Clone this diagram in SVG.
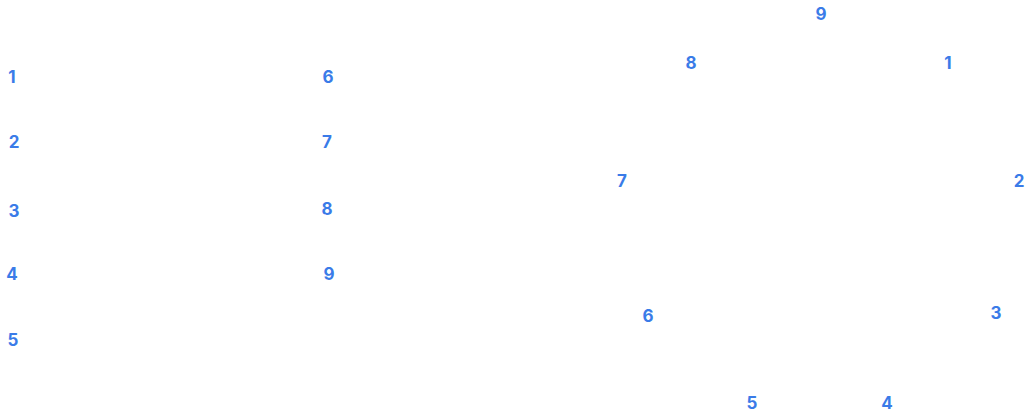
<svg xmlns="http://www.w3.org/2000/svg" width="1034" height="418" viewBox="0 0 1034 418">
<style>
.n{font-family:Inter,"Open Sans","Liberation Sans",sans-serif;font-weight:700;font-size:17px;fill:#3a7be8;text-anchor:middle}
</style>
<rect width="1034" height="418" fill="#ffffff"/>
<g id="left-list">
<g id="l1"><text class="n" x="12" y="83">1</text></g>
<g id="l2"><text class="n" x="14" y="148">2</text></g>
<g id="l3"><text class="n" x="14" y="217">3</text></g>
<g id="l4"><text class="n" x="12" y="280">4</text></g>
<g id="l5"><text class="n" x="13" y="346">5</text></g>
<g id="l6"><text class="n" x="328" y="83">6</text></g>
<g id="l7"><text class="n" x="327" y="148">7</text></g>
<g id="l8"><text class="n" x="327" y="215">8</text></g>
<g id="l9"><text class="n" x="329" y="280">9</text></g>
</g>
<g id="circle-list">
<g id="c9"><text class="n" x="821" y="20">9</text></g>
<g id="c8"><text class="n" x="691" y="69">8</text></g>
<g id="c1"><text class="n" x="948" y="69">1</text></g>
<g id="c7"><text class="n" x="622" y="187">7</text></g>
<g id="c2"><text class="n" x="1019" y="187">2</text></g>
<g id="c6"><text class="n" x="648" y="322">6</text></g>
<g id="c3"><text class="n" x="996" y="319">3</text></g>
<g id="c5"><text class="n" x="752" y="409">5</text></g>
<g id="c4"><text class="n" x="887" y="409">4</text></g>
</g>
<g id="connectors"/>
</svg>
